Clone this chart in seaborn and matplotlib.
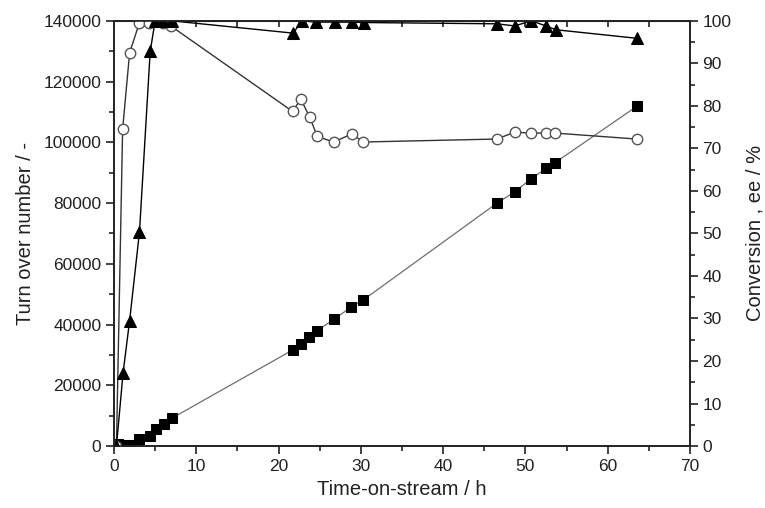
import numpy as np
import pandas as pd
import matplotlib
matplotlib.use("Agg")
import matplotlib.pyplot as plt
from matplotlib.ticker import MultipleLocator
import seaborn as sns

# Turn over number (left axis, filled squares)
time_ton = [0.5, 1.3, 2.0, 3.1, 4.4, 5.1, 6.1, 7.0, 21.7, 22.7, 23.7, 24.7, 26.7,
            28.8, 30.3, 46.5, 48.7, 50.7, 52.5, 53.6, 63.5]
ton = [600, 500, 400, 2300, 3300, 5700, 7200, 9100, 31600, 33600, 35800, 38000, 41700,
       45700, 48100, 79900, 83700, 88000, 91400, 93300, 111800]

# Conversion (right axis, filled triangles)
time_conv = [0.3, 1.1, 1.9, 3.1, 4.4, 5.0, 6.0, 7.0, 21.8, 22.8, 24.6, 26.9, 28.9,
             30.4, 46.5, 48.7, 50.7, 52.5, 53.7, 63.5]
conversion = [0, 17.1, 29.5, 50.4, 92.8, 100, 100, 100, 97.1, 100, 99.7, 99.7, 99.7,
              99.6, 99.3, 98.8, 100, 98.8, 97.9, 95.9]

# ee (right axis, open circles)
time_ee = [0.3, 1.05, 1.9, 3.1, 4.3, 6.0, 6.9, 21.7, 22.7, 23.8, 24.7, 26.7, 28.9,
           30.3, 46.5, 48.7, 50.7, 52.5, 53.6, 63.5]
ee = [0, 74.5, 92.5, 99.6, 99.6, 99.5, 98.8, 78.7, 81.6, 77.3, 72.8, 71.5, 73.4,
      71.5, 72.2, 73.8, 73.6, 73.6, 73.6, 72.2]

sns.set_style("ticks")
plt.rcParams["font.family"] = ["Liberation Sans", "DejaVu Sans"]
txt = "#222222"

fig = plt.figure(figsize=(7.65, 5.08), dpi=100)
ax = fig.add_axes([0.149, 0.122, 0.753, 0.837])
ax2 = ax.twinx()

sns.lineplot(x=time_ton, y=ton, ax=ax, sort=False, estimator=None, color="#6e6e6e",
             linewidth=0.9, marker="s", markersize=6.5, markerfacecolor="black",
             markeredgecolor="black")
sns.lineplot(x=time_ee, y=ee, ax=ax2, sort=False, estimator=None, color="#333333",
             linewidth=1.0, marker="o", markersize=7.5, markerfacecolor="white",
             markeredgecolor="#555555", markeredgewidth=1.0)
sns.lineplot(x=time_conv, y=conversion, ax=ax2, sort=False, estimator=None, color="black",
             linewidth=1.0, marker="^", markersize=8, markerfacecolor="black",
             markeredgecolor="black")

# markers sitting on the 100 % line are cut by the frame in the original
for a in (ax, ax2):
    for ln in a.lines:
        ln.set_clip_on(True)
        ln.set_clip_box(a.bbox)

ax.set_xlim(0, 70)
ax.set_ylim(0, 140000)
ax2.set_ylim(0, 100)

ax.xaxis.set_major_locator(MultipleLocator(10))
ax.xaxis.set_minor_locator(MultipleLocator(5))
ax.yaxis.set_major_locator(MultipleLocator(20000))
ax.yaxis.set_minor_locator(MultipleLocator(10000))
ax2.yaxis.set_major_locator(MultipleLocator(10))
ax2.yaxis.set_minor_locator(MultipleLocator(5))

for a in (ax, ax2):
    a.tick_params(which="major", direction="out", length=6, width=1.2, colors=txt,
                  labelsize=12.5, pad=3)
    a.tick_params(which="minor", direction="out", length=3.5, width=1.2, colors=txt)
    for s in a.spines.values():
        s.set_visible(True)
        s.set_linewidth(1.2)
        s.set_color(txt)

top = ax.secondary_xaxis("top")
top.xaxis.set_major_locator(MultipleLocator(5))
top.tick_params(direction="in", length=4, width=1.2, colors=txt, labeltop=False)

ax.set_xlabel("Time-on-stream / h", fontsize=14.5, color=txt, labelpad=5)
ax.set_ylabel("Turn over number / -", fontsize=14.5, color=txt, labelpad=6)
ax2.set_ylabel("Conversion , ee / %", fontsize=14.5, color=txt, labelpad=10)

fig.savefig("out.png", dpi=100)
